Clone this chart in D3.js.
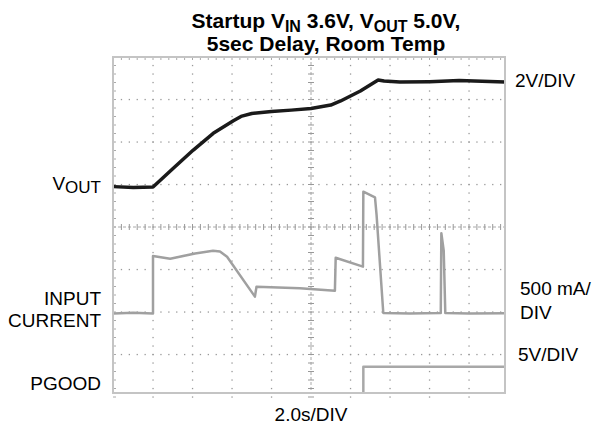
<!DOCTYPE html>
<html>
<head>
<meta charset="utf-8">
<script src="https://cdn.jsdelivr.net/npm/d3@7"></script>
<style>
  body { margin: 0; background: #fff; }
  text { font-family: Arial, "Liberation Sans", sans-serif; fill: #000; }
</style>
</head>
<body>
<svg></svg>
<script>
var width = 595;
var height = 431;

// time in seconds (2.0 s per division)
var voutTime = [0, 1, 2.0, 3.0, 4.04, 5.05, 6.07, 6.5, 7, 8, 9, 10, 11, 11.5, 12.5, 13.4, 13.7, 14.5, 16, 17.5, 19.9];
var voutVolts = [0.02, -0.02, 0, 0.86, 1.74, 2.53, 3.12, 3.34, 3.46, 3.55, 3.62, 3.7, 3.86, 4.05, 4.52, 5.04, 4.99, 4.94, 4.96, 5.01, 4.94];

var currTime = [0, 1, 2.0, 2.0, 2.87, 4.13, 5.04, 5.39, 5.75, 7.16, 7.24, 9.44, 11.21, 11.25, 12.63, 12.65, 13.24, 13.32, 13.66, 15, 16.57, 16.6, 16.72, 16.8, 18, 19.9];
var currMA = [0, 10, 0, 676, 645, 706, 739, 729, 668, 198, 315, 296, 268, 656, 551, 1433, 1367, 1159, 6, 0, 6, 944, 740, 6, 0, 4];

var pgoodTime = [0, 12.65, 12.65, 19.9];
var pgoodVolts = [0, 0, 3.55, 3.55];

var leftLabels = [["V", "OUT"], ["INPUT"], ["CURRENT"], ["PGOOD"]];
var rightLabels = ["2V/DIV", "500 mA/", "DIV", "5V/DIV"];

var svg = d3.select('svg')
    .attr('width', width)
    .attr('height', height);

var x = d3.scaleLinear().domain([0, 20]).range([113.5, 508.5]);
var yDiv = d3.scaleLinear().domain([0, 8]).range([397, 57]);

// channel offsets in divisions
var yVout = v => yDiv(4.94 + v / 2);
var yCurr = ma => yDiv(1.965 + ma / 500);
var yPgood = v => yDiv(v / 5);

var frame = {x0: 113, y0: 57, x1: 505, y1: 393};

svg.append('clipPath').attr('id', 'clip')
    .append('rect')
    .attr('x', frame.x0).attr('y', frame.y0)
    .attr('width', frame.x1 - frame.x0).attr('height', frame.y1 - frame.y0);

var grid = svg.append('g');

// dotted grid lines
var minorX = d3.range(0, 50).map(i => i * 0.4);
var minorY = d3.range(0, 41).map(i => i * 0.2);
[1, 2, 3, 5, 6, 7].forEach(function(d) {
    grid.selectAll(null).data(minorX).enter().append('rect')
        .attr('x', t => x(t) - 0.6).attr('y', yDiv(d) - 0.6)
        .attr('width', 1.3).attr('height', 1.3).attr('fill', '#999');
});
[2, 4, 6, 8, 12, 14, 16, 18].forEach(function(t) {
    grid.selectAll(null).data(minorY).enter().append('rect')
        .attr('x', x(t) - 0.6).attr('y', d => yDiv(d) - 0.6)
        .attr('width', 1.3).attr('height', 1.3).attr('fill', '#999');
});

// center axes with ticks
grid.append('line')
    .attr('x1', frame.x0).attr('x2', frame.x1)
    .attr('y1', yDiv(4)).attr('y2', yDiv(4))
    .attr('stroke', '#aaa').attr('stroke-width', 1).attr('stroke-dasharray', '3,2');
grid.append('line')
    .attr('x1', x(10)).attr('x2', x(10))
    .attr('y1', frame.y0).attr('y2', frame.y1)
    .attr('stroke', '#aaa').attr('stroke-width', 1).attr('stroke-dasharray', '3,2');
grid.selectAll(null).data(minorX).enter().append('line')
    .attr('x1', t => x(t)).attr('x2', t => x(t))
    .attr('y1', yDiv(4) - 3).attr('y2', yDiv(4) + 3)
    .attr('stroke', '#999');
grid.selectAll(null).data(minorY).enter().append('line')
    .attr('x1', x(10) - 3).attr('x2', x(10) + 3)
    .attr('y1', d => yDiv(d)).attr('y2', d => yDiv(d))
    .attr('stroke', '#999');

// small ticks on frame edges
grid.selectAll(null).data(minorX).enter().append('line')
    .attr('x1', t => x(t)).attr('x2', t => x(t))
    .attr('y1', frame.y0).attr('y2', frame.y0 + 3)
    .attr('stroke', '#aaa');
grid.selectAll(null).data(minorY).enter().append('line')
    .attr('x1', frame.x0).attr('x2', frame.x0 + 3)
    .attr('y1', d => yDiv(d)).attr('y2', d => yDiv(d))
    .attr('stroke', '#aaa');

var traces = svg.append('g').attr('clip-path', 'url(#clip)');

function trace(times, vals, yf, color, w) {
    var line = d3.line().x(d => x(d[0])).y(d => yf(d[1]));
    traces.append('path')
        .datum(d3.zip(times, vals))
        .attr('d', line)
        .attr('fill', 'none')
        .attr('stroke', color)
        .attr('stroke-width', w)
        .attr('stroke-linejoin', 'round');
}

trace(pgoodTime, pgoodVolts, yPgood, '#a8a8a8', 2.5);
trace(currTime, currMA, yCurr, '#a0a0a0', 2.5);
trace(voutTime, voutVolts, yVout, '#1a1a1a', 3.5);

// frame
svg.append('rect')
    .attr('x', frame.x0).attr('y', frame.y0)
    .attr('width', frame.x1 - frame.x0).attr('height', frame.y1 - frame.y0)
    .attr('fill', 'none').attr('stroke', '#c4c4c4').attr('stroke-width', 2);

//Title
var t1 = svg.append('text')
    .attr('x', 326).attr('y', 28)
    .attr('text-anchor', 'middle')
    .style('font-size', '21px').style('font-weight', 'bold');
t1.append('tspan').text('Startup V');
t1.append('tspan').text('IN').attr('dy', 4).style('font-size', '16px');
t1.append('tspan').text(' 3.6V, V').attr('dy', -4);
t1.append('tspan').text('OUT').attr('dy', 4).style('font-size', '16px');
t1.append('tspan').text(' 5.0V,').attr('dy', -4);

svg.append('text')
    .attr('x', 326).attr('y', 51)
    .attr('text-anchor', 'middle')
    .style('font-size', '21px').style('font-weight', 'bold')
    .text('5sec Delay, Room Temp');

// left labels
var leftY = [190, 305, 327, 390];
leftLabels.forEach(function(lab, i) {
    var t = svg.append('text')
        .attr('x', 101).attr('y', leftY[i])
        .attr('text-anchor', 'end')
        .style('font-size', '19px');
    t.append('tspan').text(lab[0]);
    if (lab[1]) t.append('tspan').text(lab[1]).attr('dy', 3).style('font-size', '17px');
});

// right labels
var rightX = [515, 520, 520, 518];
var rightY = [87, 295, 319, 361];
rightLabels.forEach(function(lab, i) {
    svg.append('text')
        .attr('x', rightX[i]).attr('y', rightY[i])
        .style('font-size', '19px')
        .text(lab);
});

//xAxis label
svg.append('text')
    .attr('x', x(10)).attr('y', 421)
    .attr('text-anchor', 'middle')
    .style('font-size', '19px')
    .text('2.0s/DIV');
</script>
</body>
</html>
